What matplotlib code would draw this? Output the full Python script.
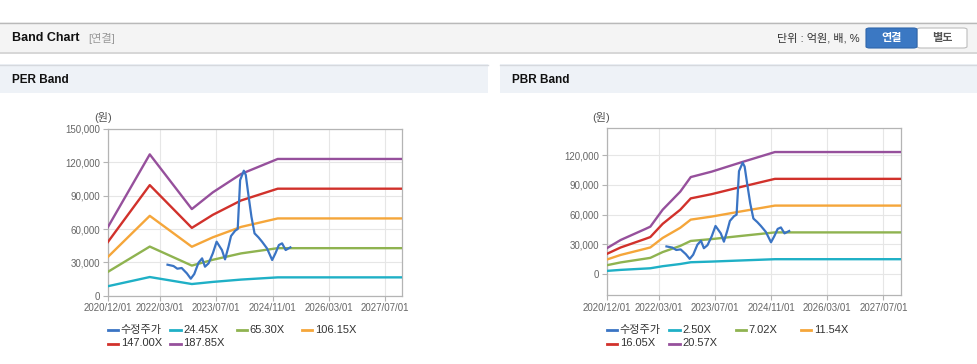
import matplotlib
matplotlib.use("Agg")
import matplotlib.pyplot as plt
import matplotlib.dates as mdates
from matplotlib.patches import Rectangle, FancyBboxPatch
from matplotlib.lines import Line2D
from matplotlib.ticker import StrMethodFormatter
import pandas as pd

plt.rcParams['font.family'] = ['Liberation Sans', 'Noto Sans CJK KR']

# 수정주가 (same series on both charts)
price_dates = ['2022-05-04', '2022-06-25', '2022-07-28', '2022-09-04', '2022-10-19',
               '2022-11-22', '2022-12-22', '2023-01-28', '2023-02-28', '2023-03-25',
               '2023-04-25', '2023-06-01', '2023-07-04', '2023-08-19', '2023-09-15',
               '2023-10-15', '2023-11-06', '2023-12-12', '2024-01-03', '2024-01-24',
               '2024-02-25', '2024-03-13', '2024-04-01', '2024-05-01', '2024-05-28',
               '2024-07-01', '2024-08-01', '2024-09-13', '2024-10-28', '2024-11-25',
               '2024-12-25', '2025-01-22', '2025-02-22', '2025-04-04']
price = [27900, 26700, 24300, 24900, 20100,
         15300, 19500, 29700, 33600, 26100,
         29100, 38100, 48600, 41100, 32700,
         44100, 53700, 58500, 60000, 104000,
         112500, 108600, 93600, 71100, 56100,
         52500, 48600, 42600, 32100, 38100,
         45600, 47100, 41100, 43500]

# PER band
per_dates = ['2020-12-01', '2021-12-01', '2022-12-01', '2023-06-01',
             '2024-02-01', '2024-12-15', '2027-12-01']
per_labels = ['24.45X', '65.30X', '106.15X', '147.00X', '187.85X']
per_24 = [8500, 16800, 10500, 12400, 14500, 16500, 16500]
per_65 = [21350, 44210, 27100, 32320, 38070, 42770, 42770]
per_106 = [34700, 71860, 44050, 52540, 61890, 69530, 69530]
per_147 = [48070, 99520, 61010, 72770, 85700, 96290, 96290]
per_187 = [61430, 127170, 77960, 92990, 109520, 123040, 123040]

# PBR band
pbr_dates = ['2020-12-01', '2021-04-01', '2021-11-01', '2021-12-15', '2022-04-01',
             '2022-09-01', '2022-12-01', '2023-06-01', '2024-02-01', '2024-12-01',
             '2027-12-01']
pbr_labels = ['2.50X', '7.02X', '11.54X', '16.05X', '20.57X']
pbr_2 = [3160, 4180, 5530, 5820, 7900, 10130, 11910, 12580, 13670, 14990, 14990]
pbr_7 = [8870, 11740, 15530, 16350, 22180, 28430, 33440, 35320, 38390, 42080, 42080]
pbr_11 = [14590, 19290, 25530, 26880, 36470, 46740, 54980, 58070, 63110, 69170, 69170]
pbr_16 = [20290, 26840, 35500, 37380, 50720, 65000, 76460, 80760, 87780, 96200, 96200]
pbr_20 = [26000, 34400, 45500, 47900, 65000, 83300, 98000, 103500, 112500, 123300, 123300]

tick_dates = ['2020-12-01', '2022-03-01', '2023-07-01', '2024-11-01', '2026-03-01', '2027-07-01']
price_label = '수정주가'
colors = ['#3a74c4', '#1fb0c6', '#8fb350', '#f5a63a', '#d1312b', '#96509c']

W, H = 978, 364
fig = plt.figure(figsize=(W / 100, H / 100), dpi=100)


def fx(x):
    return x / W


def fy(y):
    return 1 - y / H


def rect(x0, y0, x1, y1, fc, ec='none', lw=0):
    fig.patches.append(Rectangle((fx(x0), fy(y1)), fx(x1 - x0), (y1 - y0) / H,
                                 transform=fig.transFigure, fc=fc, ec=ec, lw=lw))


def hline(x0, x1, y, color, lw=1):
    fig.add_artist(Line2D([fx(x0), fx(x1)], [fy(y), fy(y)], color=color, lw=lw,
                          transform=fig.transFigure))


# header bar
rect(0, 22, 978, 52, '#f4f4f4')
hline(0, 978, 22.5, '#b9b9b9', 1)
hline(0, 978, 52.5, '#cfcfcf', 1.2)
fig.text(fx(12), fy(38), 'Band Chart', fontsize=9, fontweight='bold', color='#111', va='center')
fig.text(fx(88), fy(38), '[연결]', fontsize=8, color='#999', va='center')
fig.text(fx(860), fy(38.5), '단위 : 억원, 배, %', fontsize=8, color='#333', va='center', ha='right')
fig.patches.append(FancyBboxPatch((fx(917), fy(48)), fx(50), 20 / H,
                                  boxstyle='round,pad=0,rounding_size=0.004',
                                  transform=fig.transFigure, fc='white', ec='#bdbdbd', lw=0.8))
fig.patches.append(FancyBboxPatch((fx(866), fy(48)), fx(51), 20 / H,
                                  boxstyle='round,pad=0,rounding_size=0.004',
                                  transform=fig.transFigure, fc='#3b78c3', ec='#2f66ab', lw=0.8))
fig.text(fx(891.5), fy(38.5), '연결', fontsize=8, fontweight='bold', color='white', ha='center', va='center')
fig.text(fx(942.5), fy(38.5), '별도', fontsize=8, fontweight='bold', color='#555', ha='center', va='center')

# panel headers
for x0, x1, title in [(0, 488, 'PER Band'), (500, 978, 'PBR Band')]:
    rect(x0, 64, x1, 93, '#eef2f7')
    hline(x0, x1, 64.5, '#d6d9de', 1)
    fig.text(fx(x0 + 12), fy(80), title, fontsize=8.5, fontweight='bold', color='#111', va='center')


def band_chart(box, ylim, yticks, band_dates, bands, labels, unit_x, legend_x):
    ax = fig.add_axes([fx(box[0]), fy(box[3]), fx(box[2] - box[0]), (box[3] - box[1]) / H])
    bd = pd.to_datetime(band_dates)
    ax.plot(pd.to_datetime(price_dates), price, color=colors[0], lw=1.6, zorder=5)
    for vals, c in zip(bands, colors[1:]):
        ax.plot(bd, vals, color=c, lw=1.7, zorder=3)
    ax.set_xlim(pd.Timestamp('2020-12-01'), pd.Timestamp('2027-12-01'))
    ax.set_ylim(*ylim)
    ax.set_yticks(yticks)
    ax.yaxis.set_major_formatter(StrMethodFormatter('{x:,.0f}'))
    ax.set_xticks(pd.to_datetime(tick_dates))
    ax.xaxis.set_major_formatter(mdates.DateFormatter('%Y/%m/%d'))
    ax.grid(True, color='#e6e6e6', lw=0.8)
    ax.set_axisbelow(True)
    for s in ax.spines.values():
        s.set_color('#b4b4b4')
        s.set_linewidth(0.9)
    ax.tick_params(labelsize=7, labelcolor='#666', color='#b4b4b4', length=3.5, pad=2)
    fig.text(fx(unit_x), fy(118), '(원)', fontsize=8, color='#555', ha='center', va='center')

    # legend
    names = [price_label] + labels
    cols = [0, 62.5, 129, 194]
    for i, (name, c) in enumerate(zip(names, colors)):
        x = legend_x + cols[i % 4]
        y = 330 if i < 4 else 343.5
        fig.add_artist(Line2D([fx(x), fx(x + 10.5)], [fy(y), fy(y)], color=c, lw=2,
                              transform=fig.transFigure))
        fig.text(fx(x + 13), fy(y), name, fontsize=8, color='#333', va='center')
    return ax


band_chart((107.7, 129, 402.3, 295.7), (0, 150000), range(0, 150001, 30000),
           per_dates, [per_24, per_65, per_106, per_147, per_187], per_labels, 103, 107.7)
band_chart((606.7, 128.3, 901, 295), (-21200, 147300), range(0, 120001, 30000),
           pbr_dates, [pbr_2, pbr_7, pbr_11, pbr_16, pbr_20], pbr_labels, 601, 606.7)

fig.savefig('out.png', dpi=100, facecolor='white')
